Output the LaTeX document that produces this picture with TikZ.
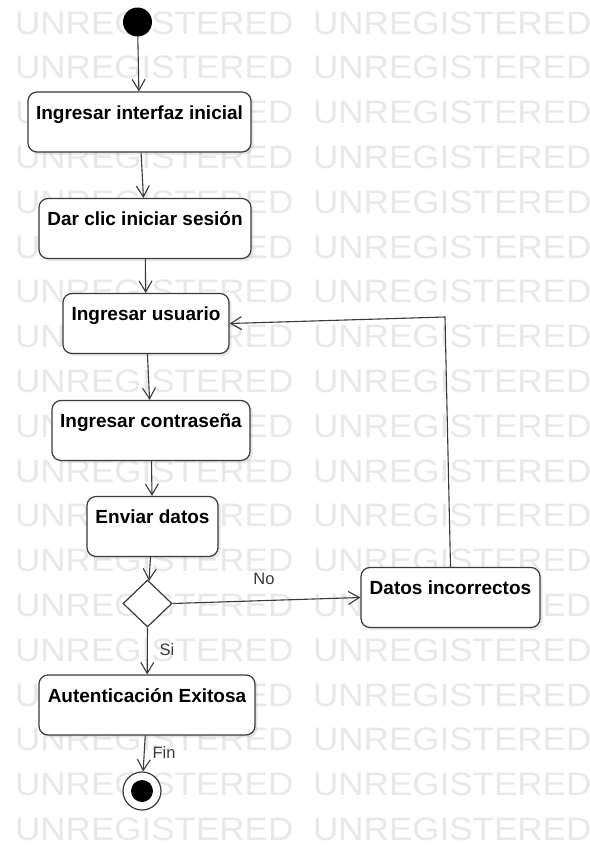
\documentclass[tikz,border=0pt]{standalone}
\usepackage{fontspec}
\setmainfont{Liberation Sans}
\usetikzlibrary{arrows.meta,shapes.geometric,shadows}
\definecolor{ink}{HTML}{3A3A3A}
\definecolor{wm}{HTML}{E8E8E8}
\begin{document}
\begin{tikzpicture}[x=1pt,y=-1pt,
  act/.style={draw=ink, line width=1.2pt, rounded corners=9pt, fill=white,
    inner sep=0pt, text height=27pt, text depth=33pt,
    font=\fontsize{19}{22}\selectfont\bfseries,
    drop shadow={shadow xshift=2.5pt, shadow yshift=-2.5pt, opacity=0.18}},
  flow/.style={draw=ink, line width=1.1pt,
    -{Straight Barb[length=11pt,width=13pt,line width=1.1pt]}},
  lbl/.style={font=\fontsize{16.5}{19}\selectfont, text=ink, inner sep=0pt},
  wmark/.style={font=\fontsize{32.5}{34}\selectfont, text=wm, inner sep=0pt, anchor=west}]

\useasboundingbox (0,0) rectangle (589,846);
\fill[white] (0,0) rectangle (589,846);

% background watermark rows
\begin{scope}
  \clip (0,0) rectangle (589,846);
  \foreach \k in {0,...,18} {
    \node[wmark] (wl\k) at (15, 23+44.8*\k) {\scalebox{1.077}[1]{UNREGISTERED}};
    \node[wmark] (wr\k) at (313, 23+44.8*\k) {\scalebox{1.077}[1]{UNREGISTERED}};
  }
\end{scope}

% start and end states
\node[circle, fill=black, minimum size=29pt, inner sep=0pt] (init) at (137.5,22) {};
\node[circle, draw=ink, line width=1.2pt, fill=white, minimum size=38pt, inner sep=0pt] (fin) at (142,791) {};
\node[circle, fill=black, minimum size=22pt, inner sep=0pt] (finc) at (fin.center) {};

% activities
\node[act, minimum width=223pt] (b1) at (139.5,122) {Ingresar interfaz inicial};
\node[act, minimum width=212pt] (b2) at (145,228.5) {Dar clic iniciar sesión};
\node[act, minimum width=166pt] (b3) at (146,323.5) {Ingresar usuario};
\node[act, minimum width=198pt] (b4) at (151,430.5) {Ingresar contraseña};
\node[act, minimum width=131pt] (b5) at (152.5,526.5) {Enviar datos};
\node[act, minimum width=216pt] (b6) at (147,705) {Autenticación Exitosa};
\node[act, minimum width=179pt] (dinc) at (450.5,597.5) {Datos incorrectos};

% decision
\node[diamond, draw=ink, line width=1.2pt, fill=white, inner sep=0pt,
      minimum width=49pt, minimum height=47pt] (dec) at (147.5,603.5) {};

% flows
\draw[flow] (init) -- (b1);
\draw[flow] (b1) -- (b2);
\draw[flow] (b2) -- (b3);
\draw[flow] (b3) -- (b4);
\draw[flow] (b4) -- (b5);
\draw[flow] (b5) -- (dec);
\draw[flow] (dec.east) -- (dinc.west);
\draw[flow] (dec.south) -- (b6);
\draw[flow] (b6) -- (fin);
\coordinate (loop) at (445,317);
\draw[flow] (dinc.north) -- (loop) -- (b3.east);

% guard labels
\node[lbl] (lno) at (264,579) {No};
\node[lbl] (lsi) at (167,650) {Si};
\node[lbl] (lfin) at (164,753) {Fin};
\end{tikzpicture}
\end{document}
